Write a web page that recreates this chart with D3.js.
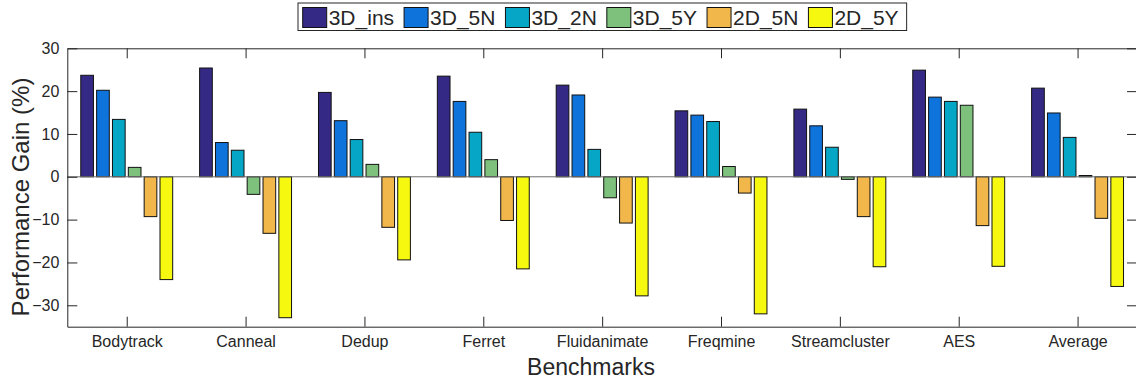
<!DOCTYPE html>
<html>
<head>
<meta charset="utf-8">
<script src="https://cdn.jsdelivr.net/npm/d3@7"></script>
<style>
    body { margin: 0; background: #fff; }
    svg text { font-family: "Liberation Sans", Arial, Helvetica, sans-serif; fill: #262626; }
</style>
</head>
<body>
<svg id="chartSvg"></svg>
<script>
// Benchmarks on the x axis
let benchmarks = ["Bodytrack", "Canneal", "Dedup", "Ferret", "Fluidanimate", "Freqmine", "Streamcluster", "AES", "Average"];
let seriesNames = ["3D_ins", "3D_5N", "3D_2N", "3D_5Y", "2D_5N", "2D_5Y"];
let seriesColors = ["#342a86", "#0e73db", "#06a7c6", "#7dc17c", "#f1b74a", "#f6f90f"];

// Performance gain (%) per series, one value per benchmark
let gain3DIns = [23.7, 25.4, 19.7, 23.5, 21.4, 15.4, 15.8, 24.9, 20.7];
let gain3D5N = [20.2, 8.0, 13.1, 17.6, 19.1, 14.4, 11.9, 18.6, 14.9];
let gain3D2N = [13.4, 6.2, 8.7, 10.4, 6.4, 12.9, 6.9, 17.6, 9.2];
let gain3D5Y = [2.2, -4.1, 2.9, 4.0, -4.9, 2.4, -0.6, 16.7, 0.3];
let gain2D5N = [-9.3, -13.2, -11.8, -10.2, -10.8, -3.8, -9.3, -11.4, -9.7];
let gain2D5Y = [-24.0, -32.9, -19.4, -21.5, -27.8, -32.0, -21.0, -20.9, -25.6];

let yTicks = [-30, -20, -10, 0, 10, 20, 30];

let allSeries = [gain3DIns, gain3D5N, gain3D2N, gain3D5Y, gain2D5N, gain2D5Y];

// Dimensions of the svg and the plot box
let width = 1136;
let height = 381;
let plotLeft = 67.3;
let plotRight = 1137;
let plotTop = 48.3;
let plotBottom = 326.7;

let svg = d3.select("#chartSvg")
    .attr("width", width)
    .attr("height", height);

let x = d3.scaleLinear().domain([0.5, benchmarks.length + 0.5]).range([plotLeft, plotRight]);
let y = d3.scaleLinear().domain([-35, 30]).range([plotBottom, plotTop]);

// Grouped bars (matlab style: group width 0.8, bar width 0.8 of slot)
let nSeries = allSeries.length;
let step = 0.8 / nSeries;
let barWidth = x(0.8 * step) - x(0);

let barData = [];
allSeries.forEach((values, i) => {
    values.forEach((v, j) => {
        barData.push({ series: i, pos: j + 1 + (i - (nSeries - 1) / 2) * step, value: v });
    });
});

let bars = svg.append("g")
    .selectAll("rect")
    .data(barData)
    .enter()
    .append("rect")
    .attr("x", (d) => x(d.pos) - barWidth / 2)
    .attr("y", (d) => y(Math.max(0, d.value)))
    .attr("width", barWidth)
    .attr("height", (d) => Math.abs(y(d.value) - y(0)))
    .attr("fill", (d) => seriesColors[d.series])
    .attr("stroke", "#111")
    .attr("stroke-width", 1);

// Baseline at zero
svg.append("line")
    .attr("x1", plotLeft)
    .attr("x2", plotRight)
    .attr("y1", y(0))
    .attr("y2", y(0))
    .attr("stroke", "#6e6e6e")
    .attr("stroke-width", 1);

// Axes, ticks pointing inward
let axisColor = "#262626";
let catTicks = benchmarks.map((b, i) => i + 1);

let leftAxis = svg.append("g")
    .attr("transform", `translate(${plotLeft},0)`)
    .call(d3.axisLeft(y).tickValues(yTicks).tickSizeInner(-10).tickSizeOuter(0).tickPadding(8));

let rightAxis = svg.append("g")
    .attr("transform", `translate(${plotRight},0)`)
    .call(d3.axisRight(y).tickValues(yTicks).tickSizeInner(-10).tickSizeOuter(0).tickFormat(""));

let bottomAxis = svg.append("g")
    .attr("transform", `translate(0,${plotBottom})`)
    .call(d3.axisBottom(x).tickValues(catTicks).tickSizeInner(-10).tickSizeOuter(0).tickPadding(9)
        .tickFormat((d) => benchmarks[d - 1]));

let topAxis = svg.append("g")
    .attr("transform", `translate(0,${plotTop})`)
    .call(d3.axisTop(x).tickValues(catTicks).tickSizeInner(-10).tickSizeOuter(0).tickFormat(""));

[leftAxis, rightAxis, bottomAxis, topAxis].forEach((axis) => {
    axis.attr("font-family", null).attr("font-size", 16);
    axis.select(".domain").attr("stroke", axisColor).attr("stroke-width", 1);
    axis.selectAll(".tick line").attr("stroke", axisColor).attr("stroke-width", 1);
    axis.selectAll(".tick text").attr("fill", axisColor);
});

// Axis titles
svg.append("text")
    .attr("x", 591)
    .attr("y", 375)
    .attr("text-anchor", "middle")
    .attr("font-size", 23)
    .text("Benchmarks");

svg.append("text")
    .attr("transform", "translate(29,197) rotate(-90)")
    .attr("text-anchor", "middle")
    .attr("font-size", 24)
    .text("Performance Gain (%)");

// Legend in one row above the plot
let legend = svg.append("g");
let legendBox = legend.append("rect")
    .attr("fill", "#fff")
    .attr("stroke", axisColor)
    .attr("stroke-width", 1);

let cursor = 302.7;
seriesNames.forEach((name, i) => {
    legend.append("rect")
        .attr("x", cursor)
        .attr("y", 7.5)
        .attr("width", 24)
        .attr("height", 20)
        .attr("fill", seriesColors[i])
        .attr("stroke", "#111")
        .attr("stroke-width", 1);
    let label = legend.append("text")
        .attr("x", cursor + 26)
        .attr("y", 25)
        .attr("font-size", 21)
        .text(name);
    cursor += 26 + label.node().getComputedTextLength() + 10;
});

legendBox
    .attr("x", 298)
    .attr("y", 3)
    .attr("width", cursor - 10 + 8 - 298)
    .attr("height", 27.5);
</script>
</body>
</html>
